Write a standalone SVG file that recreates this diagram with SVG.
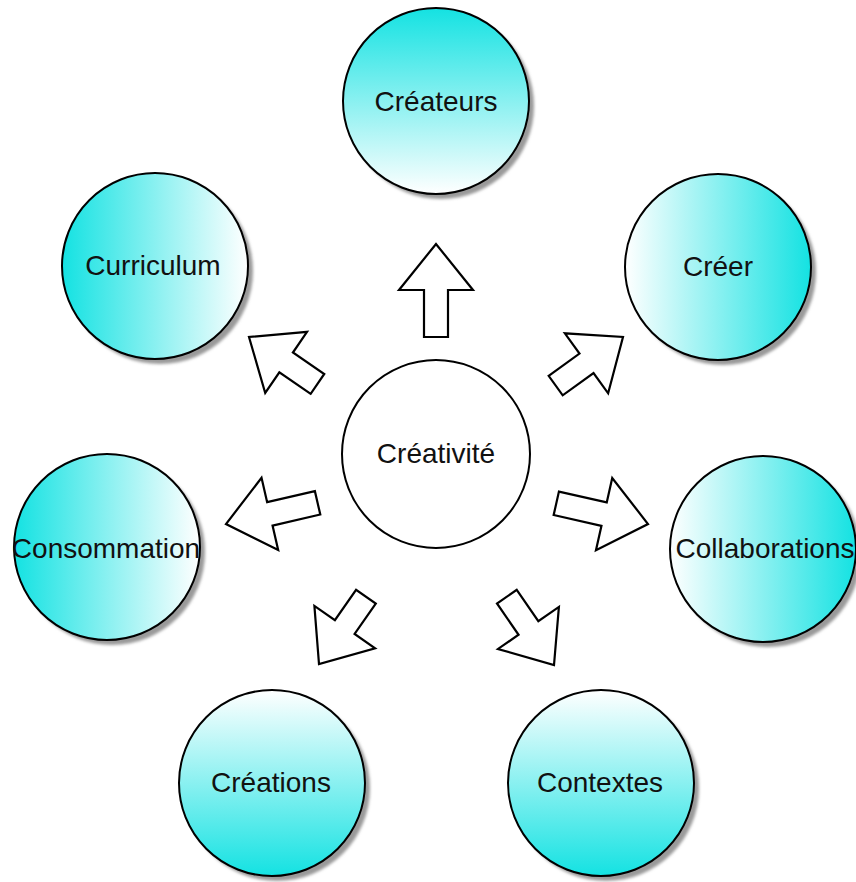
<svg xmlns="http://www.w3.org/2000/svg" width="856" height="882" viewBox="0 0 856 882">
<style>
.node{stroke:#000;stroke-width:2}
.shadow{fill:#9a9a9a;filter:url(#blur)}
.lbl{font-family:"Liberation Sans",Arial,sans-serif;font-size:28px;fill:#111;text-anchor:middle}
.arrow{fill:#fff;stroke:#000;stroke-width:2.2;stroke-linejoin:miter}
</style>
<defs>
<filter id="blur" x="-20%" y="-20%" width="140%" height="140%"><feGaussianBlur stdDeviation="1.8"/></filter>
<linearGradient id="gTop" x1="0" y1="0" x2="0" y2="1"><stop offset="0" stop-color="#14e2e2"/><stop offset="1" stop-color="#ffffff"/></linearGradient>
<linearGradient id="gBottom" x1="0" y1="0" x2="0" y2="1"><stop offset="0" stop-color="#ffffff"/><stop offset="1" stop-color="#14e2e2"/></linearGradient>
<linearGradient id="gRight" x1="0" y1="0" x2="1" y2="0"><stop offset="0" stop-color="#ffffff"/><stop offset="1" stop-color="#14e2e2"/></linearGradient>
<linearGradient id="gLeft" x1="0" y1="0" x2="1" y2="0"><stop offset="0" stop-color="#14e2e2"/><stop offset="1" stop-color="#ffffff"/></linearGradient>
</defs>
<rect width="856" height="882" fill="#fff"/>

<g id="connectors">
<polygon class="arrow" transform="translate(436,244) rotate(-90)" points="-93,-12 -46,-12 -46,-37 0,0 -46,37 -46,12 -93,12"/>
<polygon class="arrow" transform="translate(249,337) rotate(-145.6)" points="-83,-12 -45,-12 -45,-37 0,0 -45,37 -45,12 -83,12"/>
<polygon class="arrow" transform="translate(623,337) rotate(-35.8)" points="-83,-12 -45,-12 -45,-37 0,0 -45,37 -45,12 -83,12"/>
<polygon class="arrow" transform="translate(226,524) rotate(167)" points="-94,-12 -45,-12 -45,-37 0,0 -45,37 -45,12 -94,12"/>
<polygon class="arrow" transform="translate(648,524) rotate(12.7)" points="-94,-12 -45,-12 -45,-37 0,0 -45,37 -45,12 -94,12"/>
<polygon class="arrow" transform="translate(319,664) rotate(124.9)" points="-82,-12 -45,-12 -45,-37 0,0 -45,37 -45,12 -82,12"/>
<polygon class="arrow" transform="translate(554,665) rotate(55.4)" points="-83,-12 -45,-12 -45,-37 0,0 -45,37 -45,12 -83,12"/>
</g>

<g id="createurs">
<circle class="shadow" cx="441" cy="106" r="93"/>
<circle class="node" cx="436" cy="101" r="93" fill="url(#gTop)"/>
<text class="lbl" x="436" y="111">Créateurs</text>
</g>
<g id="creer">
<circle class="shadow" cx="723" cy="272" r="93"/>
<circle class="node" cx="718" cy="267" r="93" fill="url(#gRight)"/>
<text class="lbl" x="718" y="276">Créer</text>
</g>
<g id="collaborations">
<circle class="shadow" cx="768" cy="554" r="93"/>
<circle class="node" cx="763" cy="549" r="93" fill="url(#gRight)"/>
<text class="lbl" x="765" y="558">Collaborations</text>
</g>
<g id="contextes">
<circle class="shadow" cx="606" cy="788" r="93"/>
<circle class="node" cx="601" cy="783" r="93" fill="url(#gBottom)"/>
<text class="lbl" x="600" y="792">Contextes</text>
</g>
<g id="creations">
<circle class="shadow" cx="277" cy="788" r="93"/>
<circle class="node" cx="272" cy="783" r="93" fill="url(#gBottom)"/>
<text class="lbl" x="271" y="792">Créations</text>
</g>
<g id="consommation">
<circle class="shadow" cx="112" cy="552" r="93"/>
<circle class="node" cx="107" cy="547" r="93" fill="url(#gLeft)"/>
<text class="lbl" x="106" y="558">Consommation</text>
</g>
<g id="curriculum">
<circle class="shadow" cx="160" cy="271" r="93"/>
<circle class="node" cx="155" cy="266" r="93" fill="url(#gLeft)"/>
<text class="lbl" x="153" y="275">Curriculum</text>
</g>
<g id="creativite">
<circle class="node" cx="436" cy="454" r="94" fill="#fff"/>
<text class="lbl" x="436" y="463">Créativité</text>
</g>
</svg>
